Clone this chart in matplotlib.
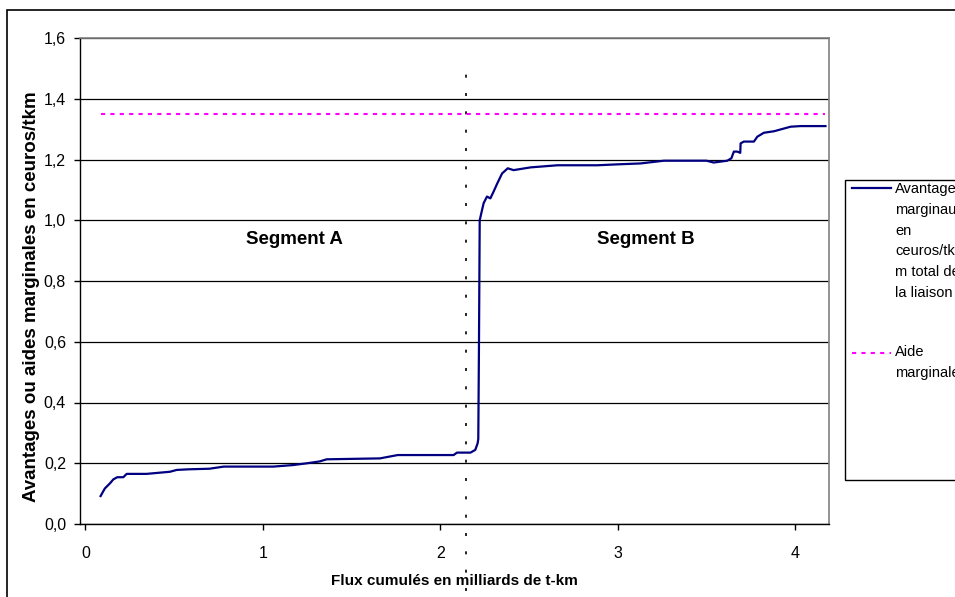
import matplotlib
matplotlib.use("Agg")
from matplotlib import pyplot as plt
from matplotlib.patches import Rectangle
from matplotlib.lines import Line2D

plt.rcParams['font.family'] = ['Liberation Sans', 'DejaVu Sans']

# avantages marginaux (courbe bleue)
av_x = [0.086, 0.11, 0.139, 0.158, 0.18, 0.214, 0.233, 0.345, 0.477, 0.515,
        0.58, 0.70, 0.78, 1.06, 1.17, 1.25, 1.32, 1.36, 1.66, 1.76,
        2.075, 2.094, 2.17, 2.197, 2.21, 2.214, 2.218, 2.222, 2.244, 2.263,
        2.282, 2.30, 2.32, 2.348, 2.38, 2.413, 2.508, 2.66, 2.884, 2.997,
        3.128, 3.26, 3.50, 3.54, 3.617, 3.64, 3.654, 3.673, 3.69, 3.692,
        3.71, 3.767, 3.786, 3.823, 3.88, 3.974, 4.03, 4.17]
av_y = [0.092, 0.117, 0.134, 0.147, 0.154, 0.154, 0.165, 0.165, 0.172, 0.178,
        0.18, 0.182, 0.189, 0.189, 0.194, 0.2, 0.206, 0.213, 0.216, 0.227,
        0.227, 0.235, 0.235, 0.244, 0.265, 0.28, 0.6, 1.0, 1.056, 1.078,
        1.072, 1.094, 1.12, 1.154, 1.171, 1.165, 1.174, 1.181, 1.181, 1.184,
        1.187, 1.196, 1.196, 1.19, 1.196, 1.204, 1.226, 1.226, 1.222, 1.253,
        1.259, 1.259, 1.275, 1.288, 1.293, 1.308, 1.31, 1.31]

# aide marginale (constante)
aide_x = [0.086, 4.17]
aide_y = [1.35, 1.35]

# separation des segments
sep_x = [2.145, 2.145]
sep_y = [-0.22, 1.5]

x_ticks = [0, 1, 2, 3, 4]
y_ticks = [0.0, 0.2, 0.4, 0.6, 0.8, 1.0, 1.2, 1.4, 1.6]
y_labels = [f"{v:.1f}".replace('.', ',') for v in y_ticks]

W, H = 955, 597


def fx(px):
    return px / W


def fy(py):
    return 1 - py / H


fig = plt.figure(figsize=(W / 100, H / 100), dpi=100)
ax = fig.add_axes([fx(80), fy(524), fx(829) - fx(80), fy(38) - fy(524)])

ax.plot(av_x, av_y, color='#000080', lw=1.6, zorder=3)
ax.plot(aide_x, aide_y, color='#ff00ff', lw=1.5, ls=(0, (2, 2.5)), zorder=3)
ax.plot(sep_x, sep_y, color='black', lw=1.2, ls=(0, (1.8, 9.2)), clip_on=False, zorder=2)

ax.set_xlim(-0.03, 4.19)
ax.set_ylim(0, 1.6)
ax.set_xticks(x_ticks)
ax.set_xticklabels([str(v) for v in x_ticks])
ax.set_yticks(y_ticks)
ax.set_yticklabels(y_labels)
ax.tick_params(axis='both', labelsize=11.5, length=4, width=1, direction='out')
ax.tick_params(axis='y', pad=6)
ax.tick_params(axis='x', pad=12)

ax.set_axisbelow(True)
ax.yaxis.grid(True, color='black', lw=0.9)
for s in ['top', 'right']:
    ax.spines[s].set_color('#808080')
    ax.spines[s].set_linewidth(1.2)
for s in ['left', 'bottom']:
    ax.spines[s].set_color('black')
    ax.spines[s].set_linewidth(1)

ax.set_xlabel("Flux cumulés en milliards de t-km", fontsize=11, fontweight='bold')
ax.xaxis.set_label_coords(0.5, (524 - 574) / 486)
ax.set_ylabel("Avantages ou aides marginales en ceuros/tkm", fontsize=13.5, fontweight='bold')
ax.yaxis.set_label_coords((40 - 80) / 749, (524 - 297) / 486)

ax.text(1.18, 0.935, "Segment A", fontsize=13.5, fontweight='bold', ha='center', va='center')
ax.text(3.16, 0.935, "Segment B", fontsize=13.5, fontweight='bold', ha='center', va='center')

# cadre du graphique
fig.add_artist(Rectangle((fx(7), fy(640)), fx(1000), fy(10) - fy(640), transform=fig.transFigure,
                         fill=False, ec='black', lw=1.2, clip_on=False))

# legende dessinee a la main (style Excel)
fig.add_artist(Rectangle((fx(845), fy(480)), fx(1000) - fx(845), fy(180) - fy(480),
                         transform=fig.transFigure, fill=False, ec='black', lw=1, clip_on=False))
fig.add_artist(Line2D([fx(852), fx(891)], [fy(188), fy(188)], transform=fig.transFigure,
                      color='#000080', lw=1.6))
fig.add_artist(Line2D([fx(852), fx(891)], [fy(353), fy(353)], transform=fig.transFigure,
                      color='#ff00ff', lw=1.5, ls=(0, (2, 2.5))))
fig.text(fx(895), fy(182), "Avantages\nmarginaux\nen\nceuros/tk\nm total de\nla liaison",
         fontsize=10.5, va='top', ha='left', linespacing=1.62)
fig.text(fx(895), fy(345), "Aide\nmarginale",
         fontsize=10.5, va='top', ha='left', linespacing=1.62)

fig.savefig("out.png", dpi=100)
